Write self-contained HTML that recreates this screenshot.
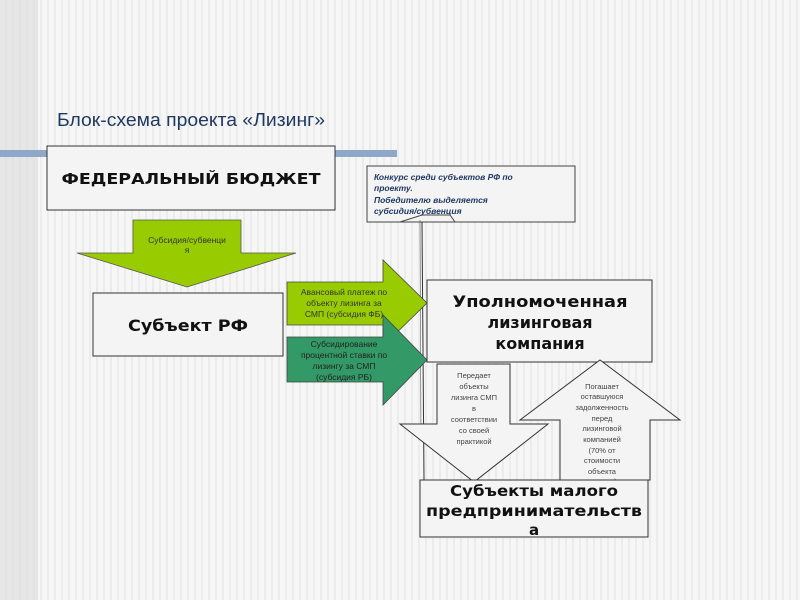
<!DOCTYPE html>
<html><head><meta charset="utf-8"><style>
html,body{margin:0;padding:0;}
body{width:800px;height:600px;overflow:hidden;background:#f2f2f2;
background-image:repeating-linear-gradient(90deg,#f6f6f6 0 5px,#ececec 5px 7px);}
svg{position:absolute;left:0;top:0;}
text{font-family:"Liberation Sans",sans-serif;}
text.b{font-family:"DejaVu Sans",sans-serif;font-weight:bold;}
</style></head><body>
<svg width="800" height="600" viewBox="0 0 800 600">
<rect x="0" y="0" width="38" height="600" fill="#dcdcdc" opacity="0.6"/>
<rect x="0" y="150" width="397" height="7" fill="#8fa8c8"/>
<text x="57" y="126" font-size="18" fill="#1f3864" textLength="268" lengthAdjust="spacingAndGlyphs">Блок-схема проекта «Лизинг»</text>
<rect x="47" y="146" width="288" height="64" fill="#f4f4f4" stroke="#333" stroke-width="1"/>
<text class="b" x="191" y="184" font-size="15" text-anchor="middle" fill="#111" textLength="259" lengthAdjust="spacingAndGlyphs">ФЕДЕРАЛЬНЫЙ БЮДЖЕТ</text>

<polygon points="133,220 241,220 241,253 296,253 187,287 77,253 133,253" fill="#99cc00" stroke="#555" stroke-width="0.8"/>
<text x="187" y="243" font-size="8.5" text-anchor="middle" fill="#333">Субсидия/субвенци</text>
<text x="187" y="253" font-size="8.5" text-anchor="middle" fill="#333">я</text>

<rect x="93" y="293" width="190" height="63" fill="#f4f4f4" stroke="#333"/>
<text class="b" x="188" y="331" font-size="16" text-anchor="middle" fill="#111" textLength="120" lengthAdjust="spacingAndGlyphs">Субъект РФ</text>

<rect x="367" y="166" width="208" height="56" fill="#f4f4f4" stroke="#444"/>
<polyline points="400,222 422,215 450,215 455,222" fill="none" stroke="#444"/>
<line x1="422" y1="222" x2="424" y2="480" stroke="#333"/>
<line x1="420" y1="220" x2="421" y2="440" stroke="#555" stroke-width="0.6"/>
<g font-size="8.5" font-style="italic" font-weight="bold" fill="#1f3864">
<text x="374" y="180">Конкурс среди субъектов РФ по</text>
<text x="374" y="191">проекту.</text>
<text x="374" y="203">Победителю выделяется</text>
<text x="374" y="214">субсидия/субвенция</text></g>

<polygon points="287,282 383,282 383,260 427,303 383,346 383,325 287,325" fill="#99cc00" stroke="#444" stroke-width="0.8"/>
<g font-size="8.5" text-anchor="middle" fill="#333">
<text x="344" y="295">Авансовый платеж по</text>
<text x="344" y="306">объекту лизинга за</text>
<text x="344" y="317">СМП (субсидия ФБ)</text></g>
<polygon points="287,337 383,337 383,315 427,360 383,405 383,382 287,382" fill="#339966" stroke="#444" stroke-width="0.8"/>
<g font-size="8.5" text-anchor="middle" fill="#222">
<text x="344" y="347">Субсидирование</text>
<text x="344" y="358">процентной ставки по</text>
<text x="344" y="369">лизингу за СМП</text>
<text x="344" y="380">(субсидия РБ)</text></g>

<rect x="427" y="280" width="225" height="82" fill="#f4f4f4" stroke="#333"/>
<g font-size="16" text-anchor="middle" fill="#111">
<text class="b" x="540" y="307" textLength="175" lengthAdjust="spacingAndGlyphs">Уполномоченная</text>
<text class="b" x="540" y="328">лизинговая</text>
<text class="b" x="540" y="349">компания</text></g>

<polygon points="437,364 510,364 510,424 548,424 474,482 400,424 437,424" fill="#f4f4f4" stroke="#333"/>
<g font-size="7.5" text-anchor="middle" fill="#444">
<text x="474" y="378">Передает</text>
<text x="474" y="389">объекты</text>
<text x="474" y="400">лизинга СМП</text>
<text x="474" y="411">в</text>
<text x="474" y="422">соответствии</text>
<text x="474" y="433">со своей</text>
<text x="474" y="444">практикой</text></g>

<polygon points="600,360 680,420 650,420 650,480 560,480 560,420 520,420" fill="#f4f4f4" stroke="#333"/>
<g font-size="7.5" text-anchor="middle" fill="#444">
<text x="602" y="389">Погашает</text>
<text x="602" y="399">оставшуюся</text>
<text x="602" y="410">задолженность</text>
<text x="602" y="421">перед</text>
<text x="602" y="431">лизинговой</text>
<text x="602" y="442">компанией</text>
<text x="602" y="453">(70% от</text>
<text x="602" y="463">стоимости</text>
<text x="602" y="474">объекта</text>
<text x="602" y="484">лизинга)</text></g>

<rect x="420" y="480" width="228" height="57" fill="#f4f4f4" stroke="#333"/>
<g font-size="15" text-anchor="middle" fill="#111">
<text class="b" x="534" y="496" textLength="168" lengthAdjust="spacingAndGlyphs">Субъекты малого</text>
<text class="b" x="534" y="516" textLength="216" lengthAdjust="spacingAndGlyphs">предпринимательств</text>
<text class="b" x="534" y="535">а</text></g>
</svg>
</body></html>
